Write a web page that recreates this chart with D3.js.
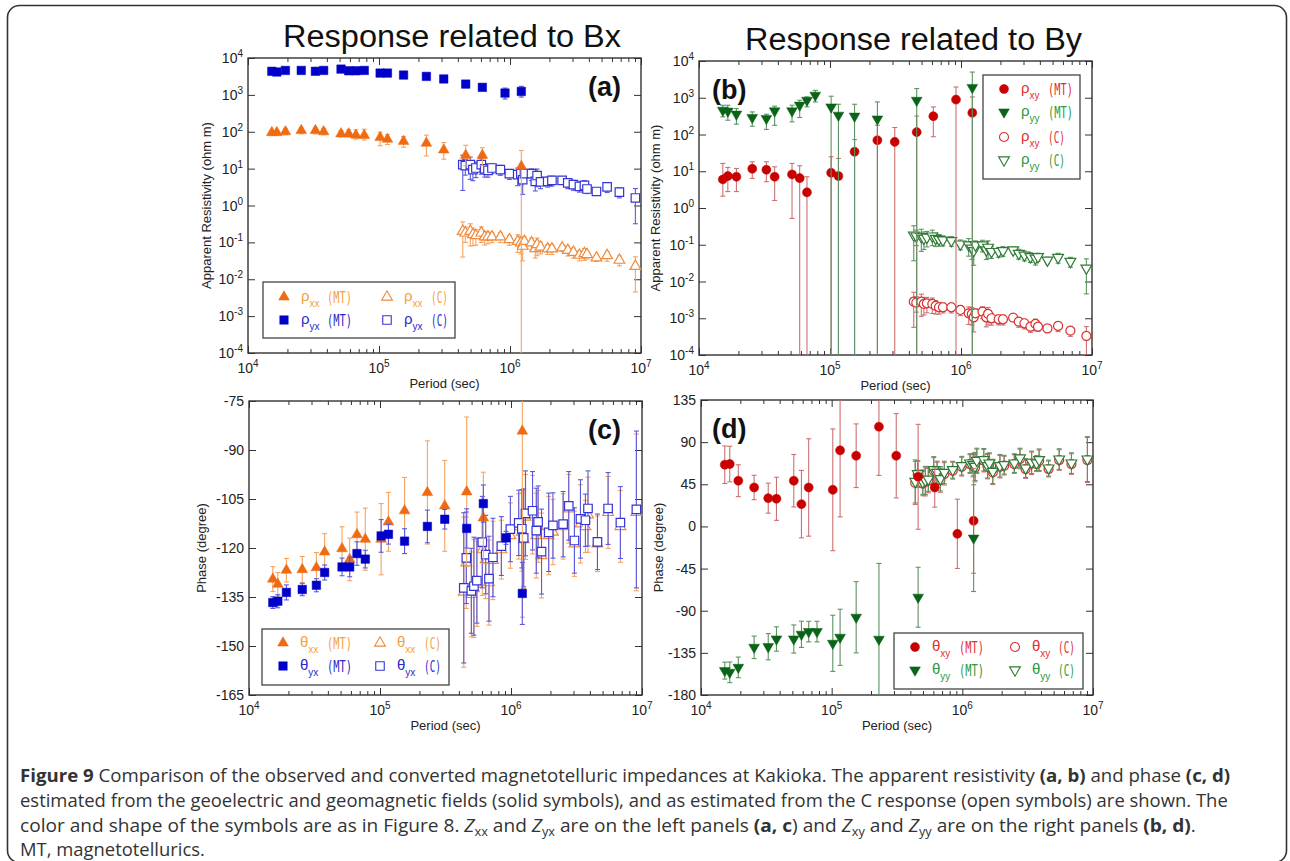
<!DOCTYPE html>
<html>
<head>
<meta charset="utf-8">
<script src="https://cdn.jsdelivr.net/npm/d3@7"></script>
<style>
body { margin: 0; background: #fff; }
svg { font-family: "Liberation Sans", Arial, sans-serif; }
</style>
</head>
<body>
<div id="fig"></div>
<script>
// periods (sec)
var periodMT = [15200, 16600, 19300, 25500, 32700, 37800, 51300, 58700, 66700, 77200, 102000, 116000, 154000, 230000, 312000, 459000, 615000, 916000, 1220000];
var periodC = [436000, 456000, 498000, 521000, 549000, 604000, 641000, 679000, 728000, 844000, 989000, 1145000, 1210000, 1250000, 1290000, 1460000, 1560000, 1610000, 1710000, 1940000, 2090000, 2500000, 2760000, 3050000, 3390000, 3700000, 3870000, 4570000, 5510000, 6840000, 9060000];

// apparent resistivity, MT (value, lower, upper; 0 = off the axis)
var rhoxxMT   = [95, 95, 100, 108, 108, 100, 88, 88, 81, 80, 70, 63, 55, 49, 32, 23, 23, null, 11.5];
var rhoxxMTlo = [83, 83, 83, 88, 88, 83, 72, 72, 63, 60, 42, 45, 38, 22, 18, 12, 12, null, 0];
var rhoxxMThi = [108, 108, 124, 125, 125, 124, 108, 113, 113, 117, 97, 83, 74, 81, 51, 43, 37, null, 31];
var rhoyxMT   = [4360, 4170, 4600, 4600, 4360, 4600, 5000, 4500, 4500, 4600, 3900, 3900, 3450, 3170, 2700, 1960, 1600, 1120, 1240];
var rhoyxMTlo = [3900, 3700, 4100, 4100, 3900, 4100, 4450, 4000, 4000, 4100, 3450, 3450, 3050, 2800, 2350, 1700, 1380, 770, 870];
var rhoyxMThi = [4850, 4650, 5150, 5150, 4850, 5150, 5600, 5050, 5050, 5150, 4400, 4400, 3900, 3600, 3100, 2300, 1890, 1530, 1700];
var rhoxyMT   = [6.0, 7.4, 7.1, 11.7, 11.0, 7.1, 8.2, 6.5, 2.66, null, 9.1, 7.4, 34, 70, 63, 116, 315, 890, 390];
var rhoxyMTlo = [2.1, 2.8, 2.8, 6.4, 5.2, 1.6, 0.52, 0, 0, null, 0, 0, 0, 0, 0, 0, 87, 0, 0];
var rhoxyMThi = [16.3, 12.7, 11.9, 18.1, 18.1, 13.2, 16.3, 14.1, 7.1, null, 24.8, 22.3, 73, 178, 155, 317, 563, 1960, 1050];
var rhoyyMT   = [457, 430, 357, 290, 272, 437, 437, 627, 850, 1170, 560, 334, 315, 263, null, 850, null, null, 1900];
var rhoyyMTlo = [302, 245, 191, 168, 137, 178, 221, 290, 565, 770, 0, 0, 0, 0, null, 0, null, null, 0];
var rhoyyMThi = [625, 625, 508, 412, 356, 590, 625, 855, 1055, 1590, 1100, 665, 665, 770, null, 1780, null, null, 5000];

// apparent resistivity from the C response, with relative error
var rhoxxC = [0.200, 0.181, 0.200, 0.163, 0.153, 0.181, 0.141, 0.141, 0.141, 0.141, 0.119, 0.107, 0.097, 0.079, 0.107, 0.097, 0.068, 0.087, 0.075, 0.067, 0.067, 0.071, 0.061, 0.054, 0.045, 0.050, 0.047, 0.038, 0.044, 0.033, 0.0225];
var rhoyxC = [12.8, 12.1, 12.8, 9.4, 10.4, 12.8, 9.8, 9.0, 10.4, 9.4, 7.3, 6.9, 7.3, 5.0, 7.3, 7.3, 4.5, 6.5, 4.4, 4.5, 4.8, 4.8, 4.1, 3.7, 3.3, 3.5, 2.8, 2.4, 3.2, 2.3, 1.6];
var rhoxyC = [0.00283, 0.00266, 0.00283, 0.00245, 0.00255, 0.00245, 0.00216, 0.00199, 0.00199, 0.00199, 0.00168, 0.00136, 0.00131, 0.00106, 0.00136, 0.00151, 0.00106, 0.00131, 0.000998, 0.000938, 0.000938, 0.00104, 0.00081, 0.00073, 0.00059, 0.0007, 0.00059, 0.00053, 0.00062, 0.00046, 0.00033];
var rhoyyC = [0.183, 0.172, 0.165, 0.149, 0.159, 0.172, 0.149, 0.140, 0.134, 0.129, 0.104, 0.098, 0.080, 0.069, 0.098, 0.098, 0.072, 0.085, 0.065, 0.065, 0.069, 0.072, 0.058, 0.052, 0.047, 0.043, 0.047, 0.038, 0.045, 0.035, 0.023];
var errRhoC = [0.8, 0.45, 0.6, 0.5, 0.45, 0.45, 0.4, 0.35, 0.3, 0.3, 0.3, 0.5, 0.5, 0.6, 0.3, 0.35, 0.45, 0.5, 0.35, 0.3, 0.3, 0.2, 0.3, 0.3, 0.3, 0.35, 0.25, 0.2, 0.3, 0.3, 0.8];

// phase (degree), value and half-width of error bar
var thetaxxMT = [-129.5, -131.1, -126.8, -126.6, -126.0, -121.2, -120.2, -123.5, -115.9, -117.3, -117.3, -112.0, -108.6, -103.0, -107.1, -102.8, -110.8, null, -84.2];
var errThxxMT = [3.8, 3.6, 3.6, 4, 4.6, 5.6, 6.7, 6.5, 6.9, 9.5, 10.9, 9, 10.2, 15.8, 13.9, 22.9, 14, null, 57];
var thetayxMT = [-136.7, -136.3, -133.6, -132.7, -131.4, -127.5, -125.8, -125.8, -121.7, -123.4, -116.3, -115.8, -117.9, -113.4, -111.2, -114.0, -106.4, -116.9, -133.9];
var errThyxMT = [1.8, 2, 2.3, 1.9, 2, 2.3, 2.7, 3, 3.6, 2.7, 5, 3, 3.8, 5, 3, 6, 5.7, 2, 9.5];
var thetaxyMT = [65.9, 66.6, 48.8, 41.6, 30.2, 29.5, 48.8, 23.8, 41.6, null, 39.1, 81.2, 75.5, 106.5, 75.5, 53, 41.6, -7.9, 6.0];
var errThxyMT = [20, 19, 17, 13, 16, 23, 28, 36, 52, null, 65, 71, 34, 52, 45, 56, 21, 37, 56];
var thetayyMT = [-154, -155.8, -150.5, -129.1, -128.4, -120.2, -120.2, -115.2, -112.3, -112.3, -124.8, -118.4, -97, -120.5, null, -75.6, null, null, -12.5];
var errThyyMT = [9, 11, 11, 12, 14, 13, 15, 14, 11, 11, 30, 30, 38, 81, null, 32, null, null, 57];

var thetaxxC = [-133.5, -124.5, -134.2, -132.4, -131.0, -120.5, -123.5, -130.6, -123.8, -120.5, -116.2, -113.4, -115.1, -117.4, -110.5, -109.8, -116.2, -113.4, -122.3, -116.2, -115.1, -113.4, -108.0, -118.7, -112.6, -113.4, -109.8, -118.7, -109.1, -113.4, -109.1];
var thetayxC = [-132.2, -123.0, -133.1, -131.7, -130.0, -118.2, -122.0, -129.4, -122.9, -119.4, -114.2, -112.3, -114.1, -116.9, -109.4, -108.6, -114.7, -112.0, -121.1, -115.2, -113.1, -112.7, -107.1, -117.7, -111.1, -111.5, -107.9, -118.1, -107.9, -112.2, -108.2];
var thetaxyC = [46.5, 55.5, 45.8, 47.6, 49.0, 59.5, 56.5, 49.4, 56.2, 59.5, 63.8, 66.6, 64.9, 62.6, 69.5, 70.2, 63.8, 66.6, 57.7, 63.8, 64.9, 66.6, 72.0, 61.3, 67.4, 66.6, 70.2, 61.3, 70.9, 66.6, 70.9];
var thetayyC = [48.0, 56.2, 47.3, 49.1, 50.5, 60.5, 57.7, 50.9, 57.7, 60.5, 64.8, 67.6, 65.9, 64.1, 70.5, 71.2, 64.8, 67.6, 58.7, 64.8, 65.9, 67.6, 73.0, 62.3, 68.4, 67.6, 71.2, 62.3, 71.9, 67.6, 71.9];
var errThC = [23, 14, 13, 15, 13, 14, 12, 13, 12, 9, 10, 10, 12, 15, 13, 12, 13, 11, 13, 12, 10, 10, 10.5, 10, 12, 8, 11.5, 8.5, 11, 11, 24];

var xTicks = [1e4, 1e5, 1e6, 1e7];
var rhoTicks = [1e-4, 1e-3, 1e-2, 1e-1, 1, 10, 100, 1000, 1e4];
var phaseTicksC = [-165, -150, -135, -120, -105, -90, -75];
var phaseTicksD = [-180, -135, -90, -45, 0, 45, 90, 135];

var col = {
  orange: "#f06a12", orangeOpen: "#f08a3c", orangeBar: "#f6a460", orangeText: "#f4a040",
  blue: "#0000c8", blueOpen: "#3434d4", blueBar: "#5a5ae0", blueText: "#2a2ac8",
  red: "#c80000", redOpen: "#d83030", redBar: "#cc7070", redText: "#e03030",
  green: "#0a6418", greenOpen: "#2f7a35", greenBar: "#5e9363", greenText: "#2a9a3a"
};

var svg = d3.select("#fig").append("svg")
  .attr("width", 1290)
  .attr("height", 861);

svg.append("rect")
  .attr("x", 7.5).attr("y", 5.5)
  .attr("width", 1279).attr("height", 857)
  .attr("rx", 12)
  .attr("fill", "none")
  .attr("stroke", "#333")
  .attr("stroke-width", 1.6);

var symbols = {
  up: d3.symbol().type(d3.symbolTriangle).size(50)(),
  down: d3.symbol().type(d3.symbolTriangle).size(50)(),
  square: d3.symbol().type(d3.symbolSquare).size(72)(),
  circle: d3.symbol().type(d3.symbolCircle).size(64)()
};

function expLabel(sel, e) {
  sel.append("tspan").text("10");
  sel.append("tspan").attr("dy", -6).attr("font-size", 10).text(e);
}

function makePanel(o) {
  var x = d3.scaleLog().domain([1e4, 1e7]).range([o.left, o.right]);
  var y = (o.log ? d3.scaleLog() : d3.scaleLinear()).domain(o.domain).range([o.bottom, o.top]);
  var g = svg.append("g");

  var minors = [];
  [1e4, 1e5, 1e6].forEach(d => { for (var k = 2; k < 10; k++) minors.push(d * k); });

  var ax = [
    [d3.axisBottom(x), o.bottom, -7, -4],
    [d3.axisTop(x), o.top, -7, -4]
  ];
  ax.forEach(a => {
    g.append("g").attr("transform", "translate(0," + a[1] + ")")
      .call(a[0].tickValues(xTicks).tickSize(a[2]).tickFormat(""));
    g.append("g").attr("transform", "translate(0," + a[1] + ")")
      .call(a[0].tickValues(minors).tickSize(a[3]).tickFormat(""));
  });
  g.append("g").attr("transform", "translate(" + o.left + ",0)")
    .call(d3.axisLeft(y).tickValues(o.ticks).tickSize(-7).tickFormat(""));
  g.append("g").attr("transform", "translate(" + o.right + ",0)")
    .call(d3.axisRight(y).tickValues(o.ticks).tickSize(-7).tickFormat(""));
  g.selectAll(".domain").remove();
  g.selectAll(".tick line").attr("stroke", "#333").attr("stroke-width", 1);

  g.append("rect")
    .attr("x", o.left).attr("y", o.top)
    .attr("width", o.right - o.left).attr("height", o.bottom - o.top)
    .attr("fill", "none").attr("stroke", "#333").attr("stroke-width", 1.4);

  // tick labels
  g.selectAll(".xl").data(xTicks).enter().append("text")
    .attr("x", d => x(d)).attr("y", o.bottom + 20)
    .attr("text-anchor", "middle").attr("font-size", 14).attr("fill", "#222")
    .each(function(d) { expLabel(d3.select(this), Math.round(Math.log10(d))); });

  g.selectAll(".yl").data(o.ticks).enter().append("text")
    .attr("x", o.left - 5).attr("y", d => y(d) + 5)
    .attr("text-anchor", "end").attr("font-size", 14).attr("fill", "#222")
    .each(function(d) {
      if (o.log) expLabel(d3.select(this), Math.round(Math.log10(d)));
      else d3.select(this).text(d);
    });

  g.append("text")
    .attr("x", (o.left + o.right) / 2).attr("y", o.bottom + 35)
    .attr("text-anchor", "middle").attr("font-size", 13).attr("fill", "#222")
    .text("Period (sec)");
  g.append("text")
    .attr("transform", "translate(" + o.ylabelX + "," + ((o.top + o.bottom) / 2) + ") rotate(-90)")
    .attr("text-anchor", "middle").attr("font-size", 13).attr("fill", "#222")
    .text(o.ylabel);
  g.append("text")
    .attr("x", o.tagX).attr("y", o.top + 38)
    .attr("text-anchor", o.tagAnchor).attr("font-size", 27).attr("font-weight", "bold")
    .attr("fill", "#111")
    .text(o.tag);

  var clipId = "clip" + o.tag.replace(/\W/g, "");
  svg.append("clipPath").attr("id", clipId).append("rect")
    .attr("x", o.left).attr("y", o.top)
    .attr("width", o.right - o.left).attr("height", o.bottom - o.top);

  return { g: g, x: x, y: y, o: o, clip: "url(#" + clipId + ")" };
}

function drawSeries(p, periods, vals, lows, highs, st) {
  var pts = [];
  periods.forEach((t, i) => {
    if (vals[i] == null) return;
    pts.push({ t: t, v: vals[i], lo: lows[i], hi: highs[i] });
  });
  var yBottom = p.o.bottom + 20;
  var bars = p.g.append("g").attr("clip-path", p.clip)
    .attr("stroke", st.bar).attr("stroke-width", 1.1).attr("fill", "none");
  pts.forEach(d => {
    var cx = p.x(d.t);
    var yl = (d.lo > 0 || !p.o.log) ? p.y(d.lo) : yBottom;
    var yh = p.y(d.hi);
    bars.append("line").attr("x1", cx).attr("x2", cx).attr("y1", yl).attr("y2", yh);
    bars.append("line").attr("x1", cx - 2.5).attr("x2", cx + 2.5).attr("y1", yh).attr("y2", yh);
    if (yl < yBottom) bars.append("line").attr("x1", cx - 2.5).attr("x2", cx + 2.5).attr("y1", yl).attr("y2", yl);
  });
  p.g.append("g").selectAll("path").data(pts).enter().append("path")
    .attr("d", symbols[st.shape])
    .attr("transform", d => "translate(" + p.x(d.t) + "," + p.y(d.v) + ")" + (st.shape == "down" ? " rotate(180)" : ""))
    .attr("fill", st.open ? "#fff" : st.color)
    .attr("stroke", st.color)
    .attr("stroke-width", st.open ? 1.2 : 0.5);
}

function relLo(vals, e) { return vals.map((v, i) => v == null ? null : v * (1 - e[i])); }
function relHi(vals, e) { return vals.map((v, i) => v == null ? null : v * (1 + e[i])); }
function phLo(vals, e) { return vals.map((v, i) => v == null ? null : v - e[i]); }
function phHi(vals, e) { return vals.map((v, i) => v == null ? null : v + e[i]); }

function drawLegend(p, box, items) {
  var g = p.g.append("g");
  g.append("rect").attr("x", box[0]).attr("y", box[1]).attr("width", box[2]).attr("height", box[3])
    .attr("fill", "#fff").attr("stroke", "#444").attr("stroke-width", 1.3);
  items.forEach(it => {
    g.append("path").attr("d", symbols[it.shape])
      .attr("transform", "translate(" + it.mx + "," + it.y + ")" + (it.shape == "down" ? " rotate(180)" : ""))
      .attr("fill", it.open ? "#fff" : it.color).attr("stroke", it.color).attr("stroke-width", it.open ? 1.1 : 0.5);
    var t = g.append("text").attr("x", it.tx).attr("y", it.y + 4).attr("fill", it.text).attr("font-size", 15);
    t.append("tspan").text(it.greek);
    t.append("tspan").attr("dy", 6).attr("font-size", 10).text(it.sub);
    g.append("text").attr("x", it.cx).attr("y", it.y + 6).attr("fill", it.text)
      .style("font-family", "'DejaVu Sans Mono', monospace").attr("font-size", 16)
      .attr("textLength", it.tag == "(MT)" ? 25 : 17).attr("lengthAdjust", "spacingAndGlyphs")
      .text(it.tag);
  });
}

// titles
svg.append("text").attr("x", 283).attr("y", 47)
  .attr("font-size", 31).attr("fill", "#111")
  .attr("textLength", 338).attr("lengthAdjust", "spacingAndGlyphs")
  .text("Response related to Bx");
svg.append("text").attr("x", 745).attr("y", 50)
  .attr("font-size", 31).attr("fill", "#111")
  .attr("textLength", 337).attr("lengthAdjust", "spacingAndGlyphs")
  .text("Response related to By");

// (a)
var pa = makePanel({ left: 248, right: 641, top: 58, bottom: 353, log: true, domain: [1e-4, 1e4],
  ticks: rhoTicks, ylabel: "Apparent Resistivity (ohm m)", ylabelX: 211, tag: "(a)", tagX: 621, tagAnchor: "end" });
drawSeries(pa, periodC, rhoxxC, relLo(rhoxxC, errRhoC), relHi(rhoxxC, errRhoC), { shape: "up", open: true, color: col.orangeOpen, bar: col.orangeBar });
drawSeries(pa, periodC, rhoyxC, relLo(rhoyxC, errRhoC), relHi(rhoyxC, errRhoC), { shape: "square", open: true, color: col.blueOpen, bar: col.blueBar });
drawSeries(pa, periodMT, rhoxxMT, rhoxxMTlo, rhoxxMThi, { shape: "up", color: col.orange, bar: col.orangeBar });
drawSeries(pa, periodMT, rhoyxMT, rhoyxMTlo, rhoyxMThi, { shape: "square", color: col.blue, bar: col.blueBar });
drawLegend(pa, [263, 282, 192, 56], [
  { shape: "up", color: col.orange, text: col.orangeText, mx: 284, tx: 301, cx: 327, y: 297, greek: "ρ", sub: "xx", tag: "(MT)" },
  { shape: "up", open: true, color: col.orangeOpen, text: col.orangeText, mx: 387, tx: 404, cx: 431, y: 297, greek: "ρ", sub: "xx", tag: "(C)" },
  { shape: "square", color: col.blue, text: col.blueText, mx: 284, tx: 301, cx: 327, y: 320, greek: "ρ", sub: "yx", tag: "(MT)" },
  { shape: "square", open: true, color: col.blueOpen, text: col.blueText, mx: 387, tx: 404, cx: 431, y: 320, greek: "ρ", sub: "yx", tag: "(C)" }
]);

// (b)
var pb = makePanel({ left: 699, right: 1092, top: 61, bottom: 355, log: true, domain: [1e-4, 1e4],
  ticks: rhoTicks, ylabel: "Apparent Resistivity (ohm m)", ylabelX: 660, tag: "(b)", tagX: 712, tagAnchor: "start" });
drawSeries(pb, periodC, rhoxyC, relLo(rhoxyC, errRhoC), relHi(rhoxyC, errRhoC), { shape: "circle", open: true, color: col.redOpen, bar: col.redBar });
drawSeries(pb, periodC, rhoyyC, relLo(rhoyyC, errRhoC), relHi(rhoyyC, errRhoC), { shape: "down", open: true, color: col.greenOpen, bar: col.greenBar });
drawSeries(pb, periodMT, rhoxyMT, rhoxyMTlo, rhoxyMThi, { shape: "circle", color: col.red, bar: col.redBar });
drawSeries(pb, periodMT, rhoyyMT, rhoyyMTlo, rhoyyMThi, { shape: "down", color: col.green, bar: col.greenBar });
drawLegend(pb, [983, 75, 97, 104], [
  { shape: "circle", color: col.red, text: col.redText, mx: 1004, tx: 1021, cx: 1048, y: 89, greek: "ρ", sub: "xy", tag: "(MT)" },
  { shape: "down", color: col.green, text: col.greenText, mx: 1004, tx: 1021, cx: 1048, y: 112, greek: "ρ", sub: "yy", tag: "(MT)" },
  { shape: "circle", open: true, color: col.redOpen, text: col.redText, mx: 1004, tx: 1021, cx: 1048, y: 137, greek: "ρ", sub: "xy", tag: "(C)" },
  { shape: "down", open: true, color: col.greenOpen, text: col.greenText, mx: 1004, tx: 1021, cx: 1048, y: 160, greek: "ρ", sub: "yy", tag: "(C)" }
]);

// (c)
var pc = makePanel({ left: 249, right: 642, top: 401, bottom: 695, log: false, domain: [-165, -75],
  ticks: phaseTicksC, ylabel: "Phase (degree)", ylabelX: 206, tag: "(c)", tagX: 621, tagAnchor: "end" });
drawSeries(pc, periodC, thetaxxC, phLo(thetaxxC, errThC), phHi(thetaxxC, errThC), { shape: "up", open: true, color: col.orangeOpen, bar: col.orangeBar });
drawSeries(pc, periodC, thetayxC, phLo(thetayxC, errThC), phHi(thetayxC, errThC), { shape: "square", open: true, color: col.blueOpen, bar: col.blueBar });
drawSeries(pc, periodMT, thetaxxMT, phLo(thetaxxMT, errThxxMT), phHi(thetaxxMT, errThxxMT), { shape: "up", color: col.orange, bar: col.orangeBar });
drawSeries(pc, periodMT, thetayxMT, phLo(thetayxMT, errThyxMT), phHi(thetayxMT, errThyxMT), { shape: "square", color: col.blue, bar: col.blueBar });
drawLegend(pc, [262, 629, 187, 56], [
  { shape: "up", color: col.orange, text: col.orangeText, mx: 283, tx: 300, cx: 327, y: 643, greek: "θ", sub: "xx", tag: "(MT)" },
  { shape: "up", open: true, color: col.orangeOpen, text: col.orangeText, mx: 380, tx: 397, cx: 424, y: 643, greek: "θ", sub: "xx", tag: "(C)" },
  { shape: "square", color: col.blue, text: col.blueText, mx: 283, tx: 300, cx: 327, y: 666, greek: "θ", sub: "yx", tag: "(MT)" },
  { shape: "square", open: true, color: col.blueOpen, text: col.blueText, mx: 380, tx: 397, cx: 424, y: 666, greek: "θ", sub: "yx", tag: "(C)" }
]);

// (d)
var pd = makePanel({ left: 701, right: 1093, top: 400, bottom: 695, log: false, domain: [-180, 135],
  ticks: phaseTicksD, ylabel: "Phase (degree)", ylabelX: 663, tag: "(d)", tagX: 712, tagAnchor: "start" });
drawSeries(pd, periodC, thetaxyC, phLo(thetaxyC, errThC), phHi(thetaxyC, errThC), { shape: "circle", open: true, color: col.redOpen, bar: col.redBar });
drawSeries(pd, periodC, thetayyC, phLo(thetayyC, errThC), phHi(thetayyC, errThC), { shape: "down", open: true, color: col.greenOpen, bar: col.greenBar });
drawSeries(pd, periodMT, thetaxyMT, phLo(thetaxyMT, errThxyMT), phHi(thetaxyMT, errThxyMT), { shape: "circle", color: col.red, bar: col.redBar });
drawSeries(pd, periodMT, thetayyMT, phLo(thetayyMT, errThyyMT), phHi(thetayyMT, errThyyMT), { shape: "down", color: col.green, bar: col.greenBar });
drawLegend(pd, [894, 633, 189, 56], [
  { shape: "circle", color: col.red, text: col.redText, mx: 915, tx: 932, cx: 959, y: 647, greek: "θ", sub: "xy", tag: "(MT)" },
  { shape: "circle", open: true, color: col.redOpen, text: col.redText, mx: 1015, tx: 1032, cx: 1058, y: 647, greek: "θ", sub: "xy", tag: "(C)" },
  { shape: "down", color: col.green, text: col.greenText, mx: 915, tx: 932, cx: 959, y: 670, greek: "θ", sub: "yy", tag: "(MT)" },
  { shape: "down", open: true, color: col.greenOpen, text: col.greenText, mx: 1015, tx: 1032, cx: 1058, y: 670, greek: "θ", sub: "yy", tag: "(C)" }
]);

// caption: each line is a list of [text, style]
var caption = [
  { y: 782, w: 1211, parts: [["Figure 9", "b"], [" Comparison of the observed and converted magnetotelluric impedances at Kakioka. The apparent resistivity "], ["(a, b)", "b"], [" and phase "], ["(c, d)", "b"]] },
  { y: 807, w: 1208, parts: [["estimated from the geoelectric and geomagnetic fields (solid symbols), and as estimated from the C response (open symbols) are shown. The"]] },
  { y: 832, w: 1177, parts: [["color and shape of the symbols are as in Figure 8. "], ["Z", "i"], ["xx", "s"], [" and "], ["Z", "i"], ["yx", "s"], [" are on the left panels "], ["(a, c", "b"], [")", ""], [" and "], ["Z", "i"], ["xy", "s"], [" and "], ["Z", "i"], ["yy", "s"], [" are on the right panels "], ["(b, d)", "b"], ["."]] },
  { y: 856, w: 185, parts: [["MT, magnetotellurics."]] }
];
caption.forEach(line => {
  var t = svg.append("text").attr("x", 0).attr("y", 0)
    .style("font-family", "'Open Sans', sans-serif").attr("font-size", 18).attr("fill", "#333");
  var shifted = false;
  line.parts.forEach(p => {
    var s = t.append("tspan").text(p[0]);
    if (p[1] == "b") s.attr("font-weight", "bold");
    if (p[1] == "i") s.attr("font-style", "italic");
    if (p[1] == "s") { s.attr("font-size", 12).attr("dy", 4); shifted = true; }
    else if (shifted) { s.attr("dy", -4); shifted = false; }
  });
  var w = t.node().getComputedTextLength();
  t.attr("transform", "translate(20," + line.y + ") scale(" + (line.w / w) + ",1)");
});
</script>
</body>
</html>
